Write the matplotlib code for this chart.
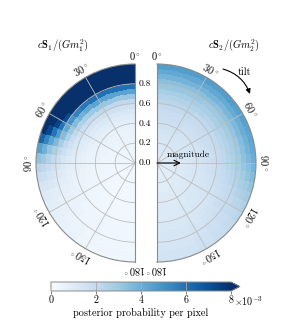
import numpy as np
import matplotlib
matplotlib.use("Agg")
import matplotlib.pyplot as plt
from matplotlib.colors import Normalize

plt.rcParams['font.family'] = ['cmr10', 'DejaVu Serif']
plt.rcParams['mathtext.fontset'] = 'cm'
plt.rcParams['axes.formatter.use_mathtext'] = True
plt.rcParams['axes.unicode_minus'] = False

# ---------------- data ----------------
# bins: uniform in spin magnitude and in cos(tilt)
N_MAG_BINS = 20
N_COS_BINS = 20
SCALE = 1e-3  # values below are in units of 1e-3

# rows: magnitude bins from outer (0.95-1.00) to inner (0.00-0.05)
# cols: cos(tilt) bins from cos=1 (tilt 0) to cos=-1 (tilt 180)
S1_PROB = [
    [9.5, 9.5, 9.5, 9.5, 9.4, 9.0, 8.2, 6.4, 4.5, 3.3, 2.4, 1.8, 1.4, 1.1, 0.9, 0.7, 0.6, 0.5, 0.4, 0.35],
    [9.5, 9.5, 9.5, 9.4, 9.1, 8.4, 7.2, 5.4, 3.9, 3.0, 2.2, 1.7, 1.3, 1.0, 0.8, 0.7, 0.6, 0.5, 0.4, 0.35],
    [9.2, 9.2, 9.1, 9.0, 8.4, 7.4, 5.9, 4.4, 3.2, 2.5, 1.9, 1.5, 1.2, 0.9, 0.8, 0.65, 0.55, 0.45, 0.4, 0.3],
    [8.6, 8.6, 8.5, 8.1, 7.1, 5.9, 4.7, 3.6, 2.7, 2.1, 1.6, 1.3, 1.0, 0.85, 0.7, 0.6, 0.5, 0.45, 0.4, 0.3],
    [6.0, 6.0, 5.8, 5.5, 4.9, 4.2, 3.5, 2.8, 2.2, 1.7, 1.4, 1.1, 0.9, 0.75, 0.65, 0.55, 0.5, 0.4, 0.35, 0.3],
    [4.4, 4.4, 4.2, 3.9, 3.5, 3.0, 2.6, 2.1, 1.7, 1.4, 1.1, 0.95, 0.8, 0.7, 0.6, 0.5, 0.45, 0.4, 0.35, 0.3],
    [3.1, 3.1, 3.0, 2.8, 2.5, 2.2, 1.9, 1.6, 1.3, 1.1, 0.9, 0.8, 0.7, 0.6, 0.55, 0.5, 0.4, 0.35, 0.3, 0.3],
    [2.2, 2.2, 2.1, 2.0, 1.8, 1.6, 1.4, 1.2, 1.0, 0.9, 0.8, 0.7, 0.6, 0.55, 0.5, 0.45, 0.4, 0.35, 0.3, 0.3],
    [1.6, 1.6, 1.5, 1.4, 1.3, 1.2, 1.05, 0.95, 0.85, 0.75, 0.7, 0.6, 0.55, 0.5, 0.45, 0.4, 0.35, 0.3, 0.3, 0.25],
    [1.2, 1.2, 1.15, 1.1, 1.0, 0.95, 0.85, 0.8, 0.7, 0.65, 0.6, 0.55, 0.5, 0.45, 0.4, 0.35, 0.35, 0.3, 0.3, 0.25],
    [0.95, 0.95, 0.9, 0.9, 0.85, 0.8, 0.7, 0.65, 0.6, 0.55, 0.5, 0.45, 0.45, 0.4, 0.35, 0.35, 0.3, 0.3, 0.25, 0.25],
    [0.8, 0.8, 0.75, 0.75, 0.7, 0.65, 0.6, 0.55, 0.5, 0.5, 0.45, 0.4, 0.4, 0.35, 0.35, 0.3, 0.3, 0.25, 0.25, 0.25],
    [0.65, 0.65, 0.65, 0.6, 0.6, 0.55, 0.5, 0.5, 0.45, 0.45, 0.4, 0.4, 0.35, 0.35, 0.3, 0.3, 0.3, 0.25, 0.25, 0.25],
    [0.55, 0.55, 0.55, 0.5, 0.5, 0.5, 0.45, 0.45, 0.4, 0.4, 0.4, 0.35, 0.35, 0.3, 0.3, 0.3, 0.25, 0.25, 0.25, 0.25],
    [0.5, 0.5, 0.5, 0.45, 0.45, 0.45, 0.4, 0.4, 0.4, 0.35, 0.35, 0.35, 0.3, 0.3, 0.3, 0.3, 0.25, 0.25, 0.25, 0.25],
    [0.45, 0.45, 0.45, 0.4, 0.4, 0.4, 0.4, 0.35, 0.35, 0.35, 0.35, 0.3, 0.3, 0.3, 0.3, 0.25, 0.25, 0.25, 0.25, 0.25],
    [0.4, 0.4, 0.4, 0.4, 0.4, 0.35, 0.35, 0.35, 0.35, 0.35, 0.3, 0.3, 0.3, 0.3, 0.3, 0.25, 0.25, 0.25, 0.25, 0.25],
    [0.4, 0.4, 0.35, 0.35, 0.35, 0.35, 0.35, 0.35, 0.3, 0.3, 0.3, 0.3, 0.3, 0.3, 0.25, 0.25, 0.25, 0.25, 0.25, 0.25],
    [0.35, 0.35, 0.35, 0.35, 0.35, 0.3, 0.3, 0.3, 0.3, 0.3, 0.3, 0.3, 0.3, 0.25, 0.25, 0.25, 0.25, 0.25, 0.25, 0.25],
    [0.35, 0.35, 0.35, 0.3, 0.3, 0.3, 0.3, 0.3, 0.3, 0.3, 0.3, 0.3, 0.25, 0.25, 0.25, 0.25, 0.25, 0.25, 0.25, 0.25],
]

S2_PROB = [
    [4.6, 4.6, 4.6, 4.6, 4.5, 4.5, 4.4, 4.3, 4.2, 4.0, 3.8, 3.5, 3.2, 2.9, 2.6, 2.3, 2.1, 1.9, 1.7, 1.5],
    [4.2, 4.2, 4.2, 4.1, 4.1, 4.0, 4.0, 3.9, 3.8, 3.6, 3.4, 3.2, 2.9, 2.7, 2.4, 2.2, 2.0, 1.8, 1.6, 1.5],
    [3.8, 3.8, 3.8, 3.7, 3.7, 3.6, 3.6, 3.5, 3.4, 3.3, 3.1, 2.9, 2.7, 2.5, 2.3, 2.1, 1.9, 1.7, 1.6, 1.4],
    [3.4, 3.4, 3.4, 3.3, 3.3, 3.3, 3.2, 3.1, 3.0, 2.9, 2.8, 2.6, 2.5, 2.3, 2.1, 2.0, 1.8, 1.7, 1.5, 1.4],
    [3.1, 3.1, 3.0, 3.0, 3.0, 2.9, 2.9, 2.8, 2.7, 2.6, 2.5, 2.4, 2.3, 2.1, 2.0, 1.9, 1.7, 1.6, 1.5, 1.3],
    [2.8, 2.8, 2.7, 2.7, 2.7, 2.6, 2.6, 2.5, 2.5, 2.4, 2.3, 2.2, 2.1, 2.0, 1.9, 1.8, 1.6, 1.5, 1.4, 1.3],
    [2.5, 2.5, 2.5, 2.4, 2.4, 2.4, 2.3, 2.3, 2.2, 2.2, 2.1, 2.0, 1.9, 1.8, 1.7, 1.6, 1.5, 1.4, 1.3, 1.2],
    [2.3, 2.3, 2.2, 2.2, 2.2, 2.1, 2.1, 2.1, 2.0, 2.0, 1.9, 1.8, 1.8, 1.7, 1.6, 1.5, 1.4, 1.3, 1.3, 1.2],
    [2.1, 2.1, 2.0, 2.0, 2.0, 1.9, 1.9, 1.9, 1.8, 1.8, 1.7, 1.7, 1.6, 1.6, 1.5, 1.4, 1.4, 1.3, 1.2, 1.1],
    [1.9, 1.9, 1.9, 1.8, 1.8, 1.8, 1.8, 1.7, 1.7, 1.7, 1.6, 1.6, 1.5, 1.5, 1.4, 1.4, 1.3, 1.2, 1.2, 1.1],
    [1.8, 1.8, 1.7, 1.7, 1.7, 1.7, 1.6, 1.6, 1.6, 1.6, 1.5, 1.5, 1.4, 1.4, 1.3, 1.3, 1.2, 1.2, 1.1, 1.1],
    [1.7, 1.7, 1.6, 1.6, 1.6, 1.6, 1.5, 1.5, 1.5, 1.5, 1.4, 1.4, 1.4, 1.3, 1.3, 1.2, 1.2, 1.1, 1.1, 1.0],
    [1.6, 1.6, 1.5, 1.5, 1.5, 1.5, 1.5, 1.4, 1.4, 1.4, 1.4, 1.3, 1.3, 1.3, 1.2, 1.2, 1.1, 1.1, 1.0, 1.0],
    [1.5, 1.5, 1.4, 1.4, 1.4, 1.4, 1.4, 1.4, 1.3, 1.3, 1.3, 1.3, 1.2, 1.2, 1.2, 1.1, 1.1, 1.0, 1.0, 1.0],
    [1.4, 1.4, 1.4, 1.3, 1.3, 1.3, 1.3, 1.3, 1.3, 1.2, 1.2, 1.2, 1.2, 1.1, 1.1, 1.1, 1.0, 1.0, 1.0, 0.9],
    [1.3, 1.3, 1.3, 1.3, 1.2, 1.2, 1.2, 1.2, 1.2, 1.2, 1.1, 1.1, 1.1, 1.1, 1.0, 1.0, 1.0, 1.0, 0.9, 0.9],
    [1.2, 1.2, 1.2, 1.2, 1.2, 1.2, 1.1, 1.1, 1.1, 1.1, 1.1, 1.1, 1.0, 1.0, 1.0, 1.0, 0.9, 0.9, 0.9, 0.9],
    [1.2, 1.2, 1.1, 1.1, 1.1, 1.1, 1.1, 1.1, 1.1, 1.0, 1.0, 1.0, 1.0, 1.0, 1.0, 0.9, 0.9, 0.9, 0.9, 0.9],
    [1.1, 1.1, 1.1, 1.1, 1.1, 1.1, 1.0, 1.0, 1.0, 1.0, 1.0, 1.0, 1.0, 1.0, 0.9, 0.9, 0.9, 0.9, 0.9, 0.9],
    [1.1, 1.1, 1.1, 1.0, 1.0, 1.0, 1.0, 1.0, 1.0, 1.0, 1.0, 1.0, 1.0, 0.9, 0.9, 0.9, 0.9, 0.9, 0.9, 0.9],
]

THETA_TICKS = [0, 30, 60, 90, 120, 150, 180]
R_TICKS = [0.0, 0.2, 0.4, 0.6, 0.8]
R_TICK_LABELS = ["0.0", "0.2", "0.4", "0.6", "0.8"]
CBAR_TICKS = [0, 2, 4, 6, 8]
VMAX = 8  # in units of 1e-3
TITLES = [r"$c\mathbf{S}_1/(Gm_1^2)$", r"$c\mathbf{S}_2/(Gm_2^2)$"]
CBAR_LABEL = "posterior probability per pixel"

# ---------------- figure ----------------
W, H = 285, 323
fig = plt.figure(figsize=(W / 100, H / 100), dpi=100)

cmap = plt.get_cmap("Blues")
norm = Normalize(vmin=0, vmax=VMAX * SCALE)

SUB = 8  # angular sub-division so that wedges look curved
r_edges = np.linspace(0, 1, N_MAG_BINS + 1)
cos_edges = np.linspace(1, -1, N_COS_BINS + 1)
theta_bin_edges = np.arccos(np.clip(cos_edges, -1, 1))
theta_fine = np.concatenate([
    np.linspace(theta_bin_edges[k], theta_bin_edges[k + 1], SUB + 1)[:-1]
    for k in range(N_COS_BINS)] + [[np.pi]])
T, R = np.meshgrid(theta_fine, r_edges)

grid_col = "#bdbdbd"
spine_col = "#8a8a8a"


def px(x0, y0, w, h):
    return [x0 / W, 1 - (y0 + h) / H, w / W, h / H]


# disc layout (pixels): centre x, centre y, radius
RAD = 99
CY = 163
CX = [135, 157]
directions = [1, -1]
data = [S1_PROB, S2_PROB]
axes = []
for i in range(2):
    # matplotlib sizes a half-disc wedge like a full circle in a square box;
    # the disc centre sits a quarter of the box away from the box centre
    sq_cx = CX[i] - directions[i] * RAD / 2
    axes.append(fig.add_axes(px(sq_cx - RAD, CY - RAD, 2 * RAD, 2 * RAD),
                             projection="polar"))

for i, ax in enumerate(axes):
    ax.set_theta_zero_location("N")
    ax.set_theta_direction(directions[i])
    ax.set_thetamin(0)
    ax.set_thetamax(180)
    ax.set_rlim(0, 1)
    vals = np.array(data[i])[::-1] * SCALE
    C = np.repeat(vals, SUB, axis=1)
    ax.pcolormesh(T, R, C, cmap=cmap, norm=norm, shading="flat",
                  antialiased=False, edgecolors="face", linewidth=0, rasterized=True)
    ax.set_xticks(np.deg2rad(THETA_TICKS))
    ax.set_xticklabels([])
    ax.set_yticks(R_TICKS)
    if i == 1:
        ax.set_yticklabels(R_TICK_LABELS)
    else:
        ax.set_yticklabels([])
    ax.grid(True, color=grid_col, linewidth=0.6)
    ax.tick_params(axis="both", colors="#555555", length=2.5, width=0.6,
                   labelcolor="black", labelsize=7, pad=1.5)
    for sp in ax.spines.values():
        sp.set_color(spine_col)
        sp.set_linewidth(0.8)
    # theta labels, rotated with the angle
    for t in THETA_TICKS:
        ax.text(np.deg2rad(t), 1.085, r"$%d^\circ$" % t, ha="center", va="center",
                rotation=directions[i] * t, rotation_mode="anchor",
                fontsize=7.5, clip_on=False)

fig.text(37 / W, 1 - 46 / H, TITLES[0], ha="left", va="center", fontsize=7.5)
fig.text(260 / W, 1 - 46 / H, TITLES[1], ha="right", va="center", fontsize=7.5)

# magnitude arrow
ax = axes[1]
ax.annotate("", xy=(np.deg2rad(90), 0.24), xytext=(0, 0),
            arrowprops=dict(arrowstyle="->", color="black", lw=0.8,
                            shrinkA=0, shrinkB=0))
ax.text(np.deg2rad(75.6), 0.33, "magnitude", ha="center", va="center", fontsize=6.8)
# tilt arrow
ax.annotate("", xy=(np.deg2rad(53.4), 1.17), xytext=(np.deg2rad(35.1), 1.16),
            arrowprops=dict(arrowstyle="-|>", color="black", lw=0.8,
                            connectionstyle="arc3,rad=-0.25", mutation_scale=7,
                            shrinkA=0, shrinkB=0),
            annotation_clip=False)
ax.text(np.deg2rad(44), 1.28, "tilt", ha="center", va="center", fontsize=7.2, clip_on=False)

# colorbar
cax = fig.add_axes(px(51, 282, 189, 9))
sm = plt.cm.ScalarMappable(norm=norm, cmap=cmap)
cb = fig.colorbar(sm, cax=cax, orientation="horizontal", extend="max")
cb.set_ticks([t * SCALE for t in CBAR_TICKS])
cb.set_ticklabels([str(t) for t in CBAR_TICKS])
cb.ax.tick_params(labelsize=7.2, length=2, width=0.6, color="#666666", pad=1.5)
cb.outline.set_edgecolor(spine_col)
cb.outline.set_linewidth(0.7)
for t in CBAR_TICKS[1:-1]:
    cax.axvline(t * SCALE, color="#aaaaaa", lw=0.6)
cb.set_label(CBAR_LABEL, fontsize=7.4, labelpad=2)
cax.annotate(r"$\times10^{-3}$", xy=(1.0, 0.0), xycoords="axes fraction",
             xytext=(2.0, -2.8), textcoords="offset points",
             ha="left", va="top", fontsize=7.2)

fig.savefig("out.png", dpi=100)
